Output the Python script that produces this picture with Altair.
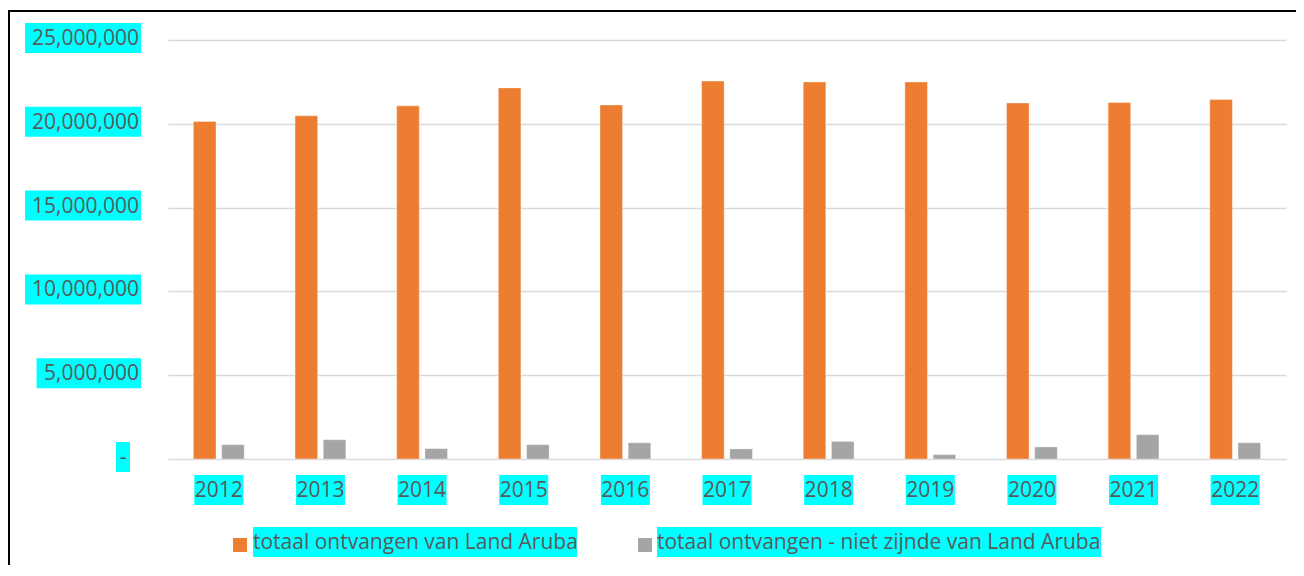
import altair as alt
import pandas as pd

years = ["2012", "2013", "2014", "2015", "2016", "2017", "2018", "2019", "2020", "2021", "2022"]
land = [20140000, 20480000, 21070000, 22140000, 21120000, 22550000, 22500000, 22500000, 21240000, 21270000, 21450000]
niet = [855000, 1150000, 620000, 855000, 970000, 600000, 1050000, 260000, 720000, 1450000, 970000]
series = ["totaal ontvangen van Land Aruba", "totaal ontvangen - niet zijnde van Land Aruba"]
colors = ["#ED7D31", "#A5A5A5"]
y_ticks = [0, 5000000, 10000000, 15000000, 20000000, 25000000]
y_tick_labels = ["-", "5,000,000", "10,000,000", "15,000,000", "20,000,000", "25,000,000"]

FONT = "Open Sans"
FS = 21
TXT = "#595959"
CYAN = "#00FFFF"
W, H = 1118, 419

rows = []
for i, yr in enumerate(years):
    rows.append({"year": yr, "series": series[0], "value": land[i]})
    rows.append({"year": yr, "series": series[1], "value": niet[i]})
df = pd.DataFrame(rows)

xscale = alt.Scale(domain=years, paddingInner=0.5, paddingOuter=0.25)
yscale = alt.Scale(domain=[0, 25000000], nice=False, zero=True)

bars = alt.Chart(df).mark_bar(stroke="white", strokeOpacity=0.35, strokeWidth=1).encode(
    x=alt.X("year:N", scale=xscale, sort=years,
            axis=alt.Axis(labels=False, ticks=False, domain=False, title=None, grid=False)),
    xOffset=alt.XOffset("series:N", scale=alt.Scale(domain=series, paddingInner=0.2, paddingOuter=0)),
    y=alt.Y("value:Q", scale=yscale,
            axis=alt.Axis(values=y_ticks, labels=False, ticks=False, domain=False, title=None,
                          grid=True, gridColor="#D9D9D9", gridWidth=1.5)),
    color=alt.Color("series:N", scale=alt.Scale(domain=series, range=colors), legend=None),
)

# x-axis labels with cyan highlight
xdf = pd.DataFrame({"year": years})
xbg = alt.Chart(xdf).mark_tick(color=CYAN, opacity=1, thickness=30, size=49, orient="horizontal").encode(
    x=alt.X("year:N", scale=xscale, sort=years), y=alt.value(450))
xtxt = alt.Chart(xdf).mark_text(font=FONT, fontSize=FS, color=TXT, baseline="middle", align="center").encode(
    x=alt.X("year:N", scale=xscale, sort=years), y=alt.value(451), text="year:N")

layers = [bars, xbg, xtxt]

# y-axis labels with cyan highlight
for v, lab in zip(y_ticks, y_tick_labels):
    d = pd.DataFrame({"v": [v], "lab": [lab]})
    if lab == "-":
        right, w = -38, 14
        tx, al = -45, "center"
    else:
        nd = sum(c.isdigit() for c in lab)
        nc = lab.count(",")
        w = 11.6 * nd + 5.2 * nc + 12.8
        right = -27
        tx, al = -29, "right"
    layers.append(alt.Chart(d).mark_tick(color=CYAN, opacity=1, thickness=30, size=w,
                                         orient="horizontal", yOffset=-2).encode(
        x=alt.value(right - w / 2), y=alt.Y("v:Q", scale=yscale)))
    layers.append(alt.Chart(d).mark_text(font=FONT, fontSize=FS, color=TXT, align=al,
                                         baseline="middle", yOffset=-1).encode(
        x=alt.value(tx), y=alt.Y("v:Q", scale=yscale), text="lab:N"))

# legend
leg_sq_x = [65, 470]
leg_txt_x = [85, 489]
leg_w = [324, 444]
for i in range(2):
    d = pd.DataFrame({"s": [series[i]]})
    layers.append(alt.Chart(d).mark_rect(color=colors[i]).encode(
        x=alt.value(leg_sq_x[i]), x2=alt.value(leg_sq_x[i] + 14),
        y=alt.value(498), y2=alt.value(512)))
    layers.append(alt.Chart(d).mark_rect(color=CYAN).encode(
        x=alt.value(leg_txt_x[i]), x2=alt.value(leg_txt_x[i] + leg_w[i]),
        y=alt.value(487), y2=alt.value(517)))
    layers.append(alt.Chart(d).mark_text(font=FONT, fontSize=FS, color=TXT, align="left",
                                         baseline="middle").encode(
        x=alt.value(leg_txt_x[i]), y=alt.value(503), text="s:N"))

# frame (left and top border)
fd = pd.DataFrame({"a": [0]})
layers.append(alt.Chart(fd).mark_rule(color="black", strokeWidth=2).encode(
    x=alt.value(-159), y=alt.value(-30), y2=alt.value(530)))
layers.append(alt.Chart(fd).mark_rule(color="black", strokeWidth=2).encode(
    x=alt.value(-160), x2=alt.value(W + 12), y=alt.value(-29)))

chart = alt.layer(*layers).properties(
    width=W, height=H,
    autosize=alt.AutoSizeParams(type="none"),
    padding={"left": 160, "top": 32, "right": 10, "bottom": 106},
).configure_view(strokeWidth=0)

chart.save("out.html", embed_options={"renderer": "svg", "actions": False})
